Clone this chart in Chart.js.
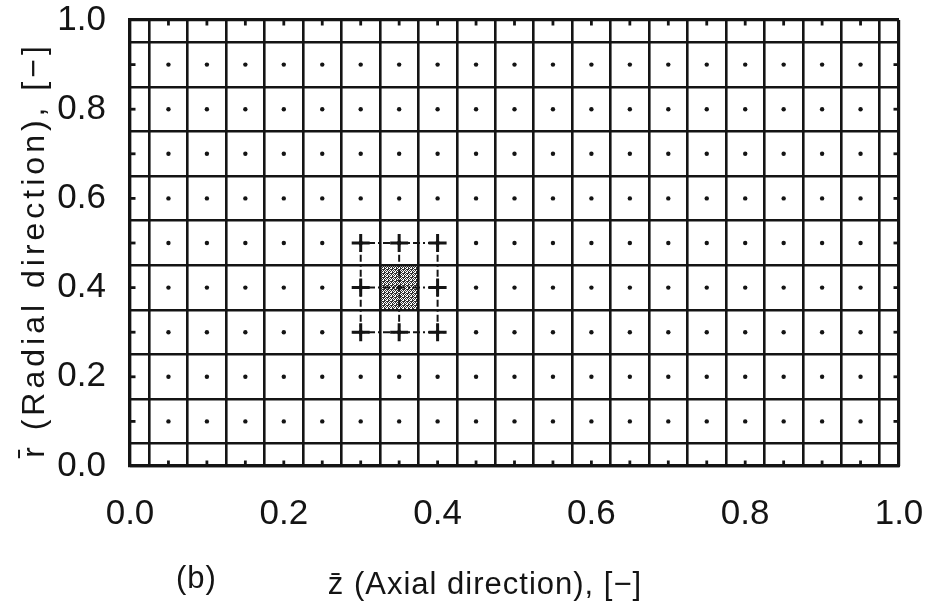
<!DOCTYPE html>
<html>
<head>
<meta charset="utf-8">
<script src="https://cdn.jsdelivr.net/npm/chart.js@4.4.1/dist/chart.umd.min.js"></script>
<style>
  html, body { margin: 0; padding: 0; background: #fff; }
</style>
</head>
<body>
<canvas id="gridChart" width="933" height="613"></canvas>
<script>
// node centres of the control volumes
const nodeZ = [0.05, 0.10, 0.15, 0.20, 0.25, 0.30, 0.35, 0.40, 0.45, 0.50,
               0.55, 0.60, 0.65, 0.70, 0.75, 0.80, 0.85, 0.90, 0.95];
const nodeR = [0.1, 0.2, 0.3, 0.4, 0.5, 0.6, 0.7, 0.8, 0.9];

// control volume faces
const faceZ = [0.025, 0.075, 0.125, 0.175, 0.225, 0.275, 0.325, 0.375, 0.425, 0.475,
               0.525, 0.575, 0.625, 0.675, 0.725, 0.775, 0.825, 0.875, 0.925, 0.975];
const faceR = [0.05, 0.15, 0.25, 0.35, 0.45, 0.55, 0.65, 0.75, 0.85, 0.95];

// labelled ticks
const tickZ = [0.0, 0.2, 0.4, 0.6, 0.8, 1.0];
const tickR = [0.0, 0.2, 0.4, 0.6, 0.8, 1.0];

// marked cell and its neighbour stencil
const cellZ = [0.325, 0.375];
const cellR = [0.35, 0.45];
const stencilZ = [0.30, 0.35, 0.40];
const stencilR = [0.30, 0.40, 0.50];
const stencilSpanZ = [0.29, 0.41];
const stencilSpanR = [0.29, 0.51];

const ink = '#141414';
const font = '"Liberation Sans", Arial, sans-serif';

function stipple() {
    const c = document.createElement('canvas');
    c.width = 4;
    c.height = 4;
    const g = c.getContext('2d');
    g.fillStyle = '#fff';
    g.fillRect(0, 0, 4, 4);
    g.fillStyle = '#303030';
    [[0, 0], [1, 0], [2, 1], [3, 1], [1, 2], [0, 3], [3, 2], [2, 3], [0, 1]].forEach(([x, y]) => g.fillRect(x, y, 1, 1));
    return g.createPattern(c, 'repeat');
}

const dots = [];
nodeZ.forEach(z => nodeR.forEach(r => dots.push({ x: z, y: r })));

const zMin = tickZ[0], zMax = tickZ[tickZ.length - 1];
const rMin = tickR[0], rMax = tickR[tickR.length - 1];
const edgeTicksZ = nodeZ.flatMap(z => [{ x: z, y: rMin }, { x: z, y: rMax }]);
const edgeTicksR = nodeR.flatMap(r => [{ x: zMin, y: r }, { x: zMax, y: r }]);

const crosses = [];
stencilZ.forEach((z, i) => stencilR.forEach((r, j) => {
    if (i !== 1 || j !== 1) crosses.push({ x: z, y: r });
}));

const dashDot = [7, 3, 2, 3];
const stencilLines = [
    ...stencilZ.map(z => ({
        type: 'line',
        data: [{ x: z, y: stencilSpanR[0] }, { x: z, y: stencilSpanR[1] }],
        borderColor: ink, borderWidth: 2, borderDash: dashDot,
        pointRadius: 0, fill: false, order: 2
    })),
    ...stencilR.map(r => ({
        type: 'line',
        data: [{ x: stencilSpanZ[0], y: r }, { x: stencilSpanZ[1], y: r }],
        borderColor: ink, borderWidth: 2, borderDash: dashDot,
        pointRadius: 0, fill: false, order: 2
    }))
];

const frameWidth = ctx => {
    const v = ctx.tick && ctx.tick.value;
    return (v === 0 || v === 1) ? 3.2 : 2.6;
};

// keep label overhang from shrinking the plot box
const noOverhang = s => {
    s.paddingTop = 0;
    s.paddingBottom = 0;
    s.paddingLeft = 0;
    s.paddingRight = 0;
};

// axis captions drawn straight onto the canvas
const captions = {
    id: 'captions',
    afterDraw(chart) {
        const { ctx } = chart;
        ctx.save();
        ctx.fillStyle = ink;
        ctx.font = '31px ' + font;
        ctx.textBaseline = 'alphabetic';
        ctx.letterSpacing = '1px';
        ctx.textAlign = 'center';
        ctx.fillText('z\u0304 (Axial direction), [\u2212]', 485, 594);
        ctx.textAlign = 'left';
        ctx.fillText('(b)', 176, 588);
        ctx.translate(44, 250);
        ctx.rotate(-Math.PI / 2);
        ctx.font = '32px ' + font;
        ctx.letterSpacing = '4px';
        ctx.textAlign = 'center';
        ctx.fillText('r\u0304 (Radial direction), [\u2212]', 0, 0);
        ctx.restore();
    }
};

const canvas = document.getElementById('gridChart');
new Chart(canvas.getContext('2d'), {
    type: 'scatter',
    data: {
        datasets: [
            {
                data: dots,
                pointRadius: 2.2, pointHoverRadius: 2.2,
                backgroundColor: ink, borderWidth: 0, order: 0
            },
            {
                data: edgeTicksZ,
                pointStyle: 'line', rotation: 90, pointRadius: 5.5,
                borderColor: ink, borderWidth: 2.8, clip: 0, order: 0
            },
            {
                data: edgeTicksR,
                pointStyle: 'line', rotation: 0, pointRadius: 5.5,
                borderColor: ink, borderWidth: 2.8, clip: 0, order: 0
            },
            {
                data: crosses,
                pointStyle: 'cross', pointRadius: 9,
                borderColor: ink, borderWidth: 3, order: 1
            },
            ...stencilLines,
            {
                type: 'line',
                data: [{ x: cellZ[0], y: cellR[1] }, { x: cellZ[1], y: cellR[1] }],
                fill: { value: cellR[0] },
                backgroundColor: stipple(),
                borderWidth: 0, pointRadius: 0, order: 3
            }
        ]
    },
    options: {
        responsive: false,
        animation: false,
        devicePixelRatio: 1,
        layout: { padding: { top: 20, right: 34, left: 0, bottom: 0 } },
        plugins: {
            legend: { display: false },
            tooltip: { enabled: false },
            filler: { drawTime: 'beforeDraw' }
        },
        scales: {
            x: {
                type: 'linear', min: zMin, max: zMax, position: 'bottom',
                afterBuildTicks: s => { s.ticks = tickZ.map(v => ({ value: v })); },
                afterFit: s => { s.height = 147; noOverhang(s); },
                grid: { display: false },
                border: { display: true, color: ink, width: 3.2 },
                ticks: {
                    color: ink, padding: 19,
                    font: { family: font, size: 35 },
                    callback: v => v.toFixed(1)
                }
            },
            y: {
                type: 'linear', min: rMin, max: rMax, position: 'left',
                afterBuildTicks: s => { s.ticks = tickR.map(v => ({ value: v })); },
                afterFit: s => { s.width = 130; noOverhang(s); },
                grid: { display: false },
                border: { display: true, color: ink, width: 3.2 },
                ticks: {
                    color: ink, padding: 16,
                    font: { family: font, size: 35 },
                    callback: v => v.toFixed(1)
                }
            },
            faceX: {
                type: 'linear', min: zMin, max: zMax, position: 'bottom',
                afterBuildTicks: s => { s.ticks = [zMin, ...faceZ, zMax].map(v => ({ value: v })); },
                afterFit: s => { s.height = 0; noOverhang(s); },
                ticks: { display: false },
                border: { display: false },
                grid: { color: ink, lineWidth: frameWidth, drawTicks: false }
            },
            faceY: {
                type: 'linear', min: rMin, max: rMax, position: 'left',
                afterBuildTicks: s => { s.ticks = [rMin, ...faceR, rMax].map(v => ({ value: v })); },
                afterFit: s => { s.width = 0; noOverhang(s); },
                ticks: { display: false },
                border: { display: false },
                grid: { color: ink, lineWidth: frameWidth, drawTicks: false }
            }
        }
    },
    plugins: [captions]
});
</script>
</body>
</html>
